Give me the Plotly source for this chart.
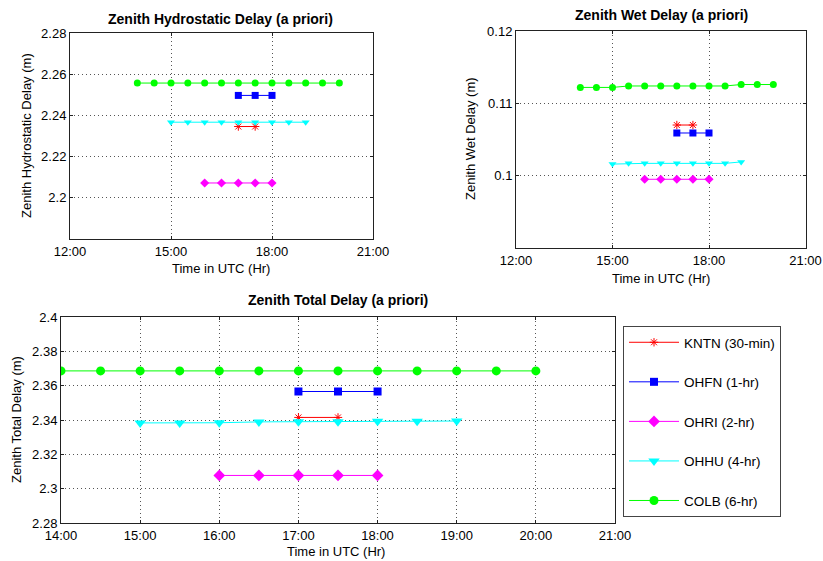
import plotly.graph_objects as go

# ---- data ----
t_kntn = [17.0, 17.5]
t_ohfn = [17.0, 17.5, 18.0]
t_ohri = [16.0, 16.5, 17.0, 17.5, 18.0]
t_ohhu = [15.0, 15.5, 16.0, 16.5, 17.0, 17.5, 18.0, 18.5, 19.0]
t_colb = [14.0, 14.5, 15.0, 15.5, 16.0, 16.5, 17.0, 17.5, 18.0, 18.5, 19.0, 19.5, 20.0]

zhd_kntn = [2.2346, 2.2346]
zhd_ohfn = [2.2497, 2.2497, 2.2497]
zhd_ohri = [2.2072, 2.2072, 2.2072, 2.2072, 2.2072]
zhd_ohhu = [2.2367, 2.2367, 2.2367, 2.2367, 2.2367, 2.2367, 2.2367, 2.2367, 2.2367]
zhd_colb = [2.2557, 2.2557, 2.2557, 2.2557, 2.2557, 2.2557, 2.2557, 2.2557, 2.2557,
            2.2557, 2.2557, 2.2557, 2.2557]

zwd_kntn = [0.1070, 0.1070]
zwd_ohfn = [0.1059, 0.1059, 0.1059]
zwd_ohri = [0.0995, 0.0995, 0.0995, 0.0995, 0.0995]
zwd_ohhu = [0.1016, 0.1017, 0.1017, 0.1017, 0.1017, 0.1017, 0.1017, 0.1017, 0.1019]
zwd_colb = [0.1122, 0.1122, 0.1122, 0.1124, 0.1124, 0.1124, 0.1124, 0.1124, 0.1124,
            0.1124, 0.1126, 0.1126, 0.1126]

ztd_kntn = [2.3415, 2.3415]
ztd_ohfn = [2.3566, 2.3566, 2.3566]
ztd_ohri = [2.3077, 2.3077, 2.3077, 2.3077, 2.3077]
ztd_ohhu = [2.3383, 2.3383, 2.3384, 2.3389, 2.3390, 2.3390, 2.3392, 2.3392, 2.3394]
ztd_colb = [2.3686, 2.3686, 2.3686, 2.3686, 2.3686, 2.3686, 2.3686, 2.3686, 2.3686,
            2.3686, 2.3686, 2.3686, 2.3686]

station_names = ["KNTN (30-min)", "OHFN (1-hr)", "OHRI (2-hr)", "OHHU (4-hr)", "COLB (6-hr)"]
station_colors = ["#ff0000", "#0000ff", "#ff00ff", "#00ffff", "#00ff00"]
station_symbols = ["asterisk-open", "square", "diamond", "triangle-down", "circle"]

top_xticks = [12, 15, 18, 21]
top_xtext = ["12:00", "15:00", "18:00", "21:00"]
bot_xticks = [14, 15, 16, 17, 18, 19, 20, 21]
bot_xtext = ["14:00", "15:00", "16:00", "17:00", "18:00", "19:00", "20:00", "21:00"]
zhd_yticks = [2.2, 2.22, 2.24, 2.26, 2.28]
zhd_ytext = ["2.2", "2.22", "2.24", "2.26", "2.28"]
zwd_yticks = [0.1, 0.11, 0.12]
zwd_ytext = ["0.1", "0.11", "0.12"]
ztd_yticks = [2.28, 2.3, 2.32, 2.34, 2.36, 2.38, 2.4]
ztd_ytext = ["2.28", "2.3", "2.32", "2.34", "2.36", "2.38", "2.4"]

times = [t_kntn, t_ohfn, t_ohri, t_ohhu, t_colb]
zhd = [zhd_kntn, zhd_ohfn, zhd_ohri, zhd_ohhu, zhd_colb]
zwd = [zwd_kntn, zwd_ohfn, zwd_ohri, zwd_ohhu, zwd_colb]
ztd = [ztd_kntn, ztd_ohfn, ztd_ohri, ztd_ohhu, ztd_colb]

W, H = 823, 561
FONT = "Liberation Sans, Arial, Helvetica, sans-serif"

def px_x(a, b):
    return [a / W, b / W]

def px_y(top, bottom):
    return [1 - bottom / H, 1 - top / H]

fig = go.Figure()

sizes_top = [7, 7, 7, 7, 7]
sizes_bot = [7, 8, 9, 10, 9]

for i in range(5):
    mk_line = dict(color=station_colors[i], width=1) if station_symbols[i] == "asterisk-open" else dict(width=0)
    for (xs, ys, xa, ya, sz, leg) in [
        (times[i], zhd[i], "x", "y", sizes_top[i], False),
        (times[i], zwd[i], "x2", "y2", sizes_top[i], False),
        (times[i], ztd[i], "x3", "y3", sizes_bot[i], True),
    ]:
        fig.add_trace(go.Scatter(
            x=xs, y=ys, xaxis=xa, yaxis=ya, mode="lines+markers",
            name=station_names[i], legendgroup=station_names[i], showlegend=leg,
            line=dict(color=station_colors[i], width=1),
            marker=dict(symbol=station_symbols[i], size=sz, color=station_colors[i], line=mk_line),
        ))

axis_common = dict(
    showline=True, linecolor="#222222", linewidth=1, mirror="ticks",
    ticks="inside", ticklen=3, tickcolor="#222222",
    showgrid=True, gridcolor="#555555", gridwidth=1, griddash="1px,3px",
    zeroline=False, tickfont=dict(family=FONT, size=13, color="black"),
    fixedrange=True, automargin=False, ticklabeloverflow="allow",
)

fig.update_layout(
    width=W, height=H, margin=dict(l=0, r=0, t=0, b=0),
    paper_bgcolor="white", plot_bgcolor="white",
    font=dict(family=FONT, size=12, color="black"),
    xaxis=dict(domain=px_x(70, 373), range=[12, 21], tickvals=top_xticks, ticktext=top_xtext,
               anchor="y", **axis_common),
    yaxis=dict(domain=px_y(33, 239), range=[2.18, 2.28], tickvals=zhd_yticks, ticktext=zhd_ytext,
               anchor="x", **axis_common),
    xaxis2=dict(domain=px_x(516, 805.5), range=[12, 21], tickvals=top_xticks, ticktext=top_xtext,
                anchor="y2", **axis_common),
    yaxis2=dict(domain=px_y(31, 248), range=[0.09, 0.12], tickvals=zwd_yticks, ticktext=zwd_ytext,
                anchor="x2", **axis_common),
    xaxis3=dict(domain=px_x(61, 615), range=[14, 21], tickvals=bot_xticks, ticktext=bot_xtext,
                anchor="y3", **axis_common),
    yaxis3=dict(domain=px_y(317, 523), range=[2.28, 2.4], tickvals=ztd_yticks, ticktext=ztd_ytext,
                anchor="x3", **axis_common),
    legend=dict(
        x=623 / W, y=1 - 326 / H, xanchor="left", yanchor="top",
        bordercolor="#444444", borderwidth=1, bgcolor="white",
        font=dict(family=FONT, size=13.5, color="black"),
        tracegroupgap=19, itemwidth=50,
    ),
    showlegend=True,
)

def ann(text, x, y, size=13, bold=False, angle=0):
    t = f"<b>{text}</b>" if bold else text
    fig.add_annotation(text=t, x=x / W, y=1 - y / H, xref="paper", yref="paper",
                       showarrow=False, textangle=angle, xanchor="center", yanchor="middle",
                       font=dict(family=FONT, size=size, color="black"))

ann("Zenith Hydrostatic Delay (a priori)", 221, 19, size=14, bold=True)
ann("Zenith Wet Delay (a priori)", 661, 15, size=14, bold=True)
ann("Zenith Total Delay (a priori)", 338, 300, size=14, bold=True)
ann("Time in UTC (Hr)", 221, 268)
ann("Time in UTC (Hr)", 661, 278)
ann("Time in UTC (Hr)", 336, 551)
ann("Zenith Hydrostatic Delay (m)", 26, 136, angle=-90)
ann("Zenith Wet Delay (m)", 470, 139, angle=-90)
ann("Zenith Total Delay (m)", 16, 420, angle=-90)

fig.write_html("out.html", config={"displayModeBar": False},
               post_script="document.body.style.margin='0px';")
